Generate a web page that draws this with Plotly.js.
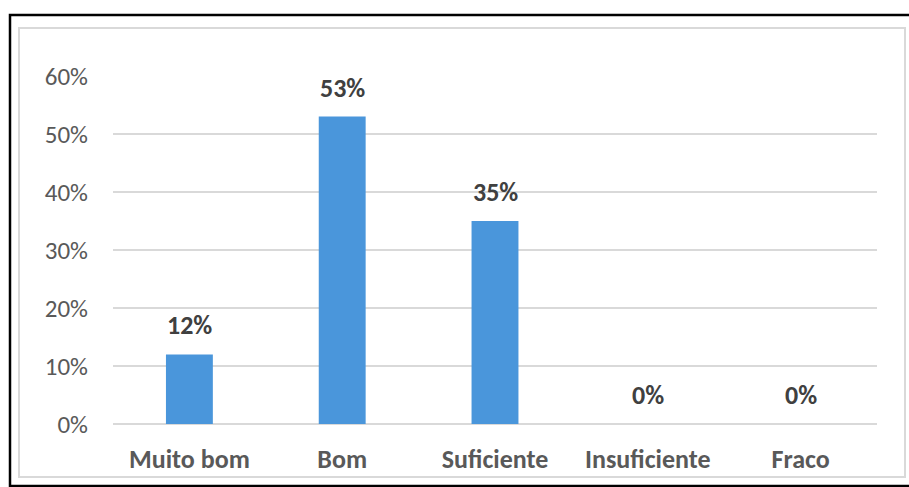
<!DOCTYPE html>
<html><head><meta charset="utf-8">
<script src="https://cdn.plot.ly/plotly-3.0.1.min.js"></script>
<style>body{margin:0;background:#fff}#c{width:909px;height:487px}</style>
</head><body><div id="c"></div>
<script>
const categories = ["Muito bom", "Bom", "Suficiente", "Insuficiente", "Fraco"];
const values = [0.12, 0.53, 0.35, 0, 0];
const labels = ["12%", "53%", "35%", "0%", "0%"];
const yTicks = [0, 0.1, 0.2, 0.3, 0.4, 0.5, 0.6];
const yTickLabels = ["0%", "10%", "20%", "30%", "40%", "50%", "60%"];

const W = 909, H = 487, L = 113, R = 32, T = 76, B = 63;
const pw = W - L - R, ph = H - T - B;
const px = x => (x - L) / pw;
const py = y => (H - B - y) / ph;

const font = "Carlito, 'Open Sans', 'Noto Sans', sans-serif";

const annotations = categories.map((c, i) => ({
  x: c, y: values[i], xref: 'x', yref: 'y', text: '<b>' + labels[i] + '</b>',
  showarrow: false, yanchor: 'middle', yshift: 29,
  font: {family: font, size: 26, color: '#404040'}
}));

const shapes = [
  {type: 'rect', xref: 'paper', yref: 'paper', x0: px(10), x1: px(915), y0: py(15), y1: py(486),
   line: {color: '#000', width: 2.5}, fillcolor: 'rgba(0,0,0,0)', layer: 'below'},
  {type: 'rect', xref: 'paper', yref: 'paper', x0: px(19), x1: px(905), y0: py(28), y1: py(477),
   line: {color: '#D9D9D9', width: 2}, fillcolor: 'rgba(0,0,0,0)', layer: 'below'}
];

Plotly.newPlot('c', [{
  type: 'bar', x: categories, y: values,
  marker: {color: '#4A96DB'}, hoverinfo: 'none'
}], {
  width: W, height: H,
  margin: {l: L, r: R, t: T, b: B, pad: 0},
  paper_bgcolor: '#fff', plot_bgcolor: '#fff',
  bargap: 0.693,
  showlegend: false,
  xaxis: {
    showgrid: false, zeroline: false, showline: false, ticks: '',
    ticklabelstandoff: 17,
    tickfont: {family: font, size: 26, color: '#595959', weight: 'bold'}
  },
  yaxis: {
    range: [0, 0.6], tickvals: yTicks, ticktext: yTickLabels,
    showgrid: true, gridcolor: '#D9D9D9', gridwidth: 1.5,
    zeroline: true, zerolinecolor: '#D9D9D9', zerolinewidth: 2,
    showline: false, ticks: '', ticklabelstandoff: 24,
    tickfont: {family: font, size: 25, color: '#595959'}
  },
  annotations: annotations,
  shapes: shapes
}, {staticPlot: true});
</script></body></html>
